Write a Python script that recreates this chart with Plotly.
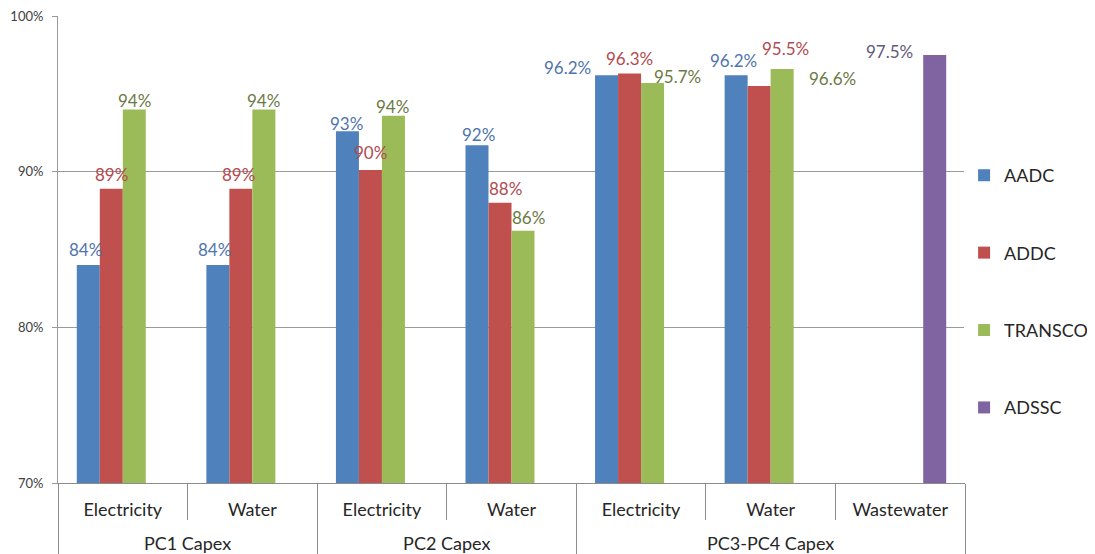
import plotly.graph_objects as go

# ---- data ----
groups = ["PC1 Capex", "PC1 Capex", "PC2 Capex", "PC2 Capex",
          "PC3-PC4 Capex", "PC3-PC4 Capex", "PC3-PC4 Capex"]
sectors = ["Electricity", "Water", "Electricity", "Water",
           "Electricity", "Water", "Wastewater"]

series_names = ["AADC", "ADDC", "TRANSCO", "ADSSC"]
aadc = [84.0, 84.0, 92.6, 91.7, 96.2, 96.2, None]
addc = [88.9, 88.9, 90.1, 88.0, 96.3, 95.5, None]
transco = [94.0, 94.0, 93.6, 86.2, 95.7, 96.6, None]
adssc = [None, None, None, None, None, None, 97.5]

aadc_lbl = ["84%", "84%", "93%", "92%", "96.2%", "96.2%", ""]
addc_lbl = ["89%", "89%", "90%", "88%", "96.3%", "95.5%", ""]
transco_lbl = ["94%", "94%", "94%", "86%", "95.7%", "96.6%", ""]
adssc_lbl = ["", "", "", "", "", "", "97.5%"]

yticks = [70, 80, 90, 100]
ytick_text = ["70%", "80%", "90%", "100%"]

# ---- style ----
bar_colors = ["#4F81BD", "#C0504D", "#9BBB59", "#8064A2"]
label_colors = ["#4f74ad", "#b24a4f", "#6b7a45", "#5e5a7c"]
FONT = "Lato"
BARGAP = 0.29

# label placement (style): horizontal shift px, and height of label centre above bar top px
label_dx = [
    [-3, -3, -1, 1, -39, -3, 0],
    [0, -2, 0, 5, 0, 26, 0],
    [0, 0, -1, 6, 25, 50, 0],
    [0, 0, 0, 0, 0, 0, -45],
]
label_above = [
    [17, 17, 9, 12, 9, 16, 0],
    [16, 16, 19, 16, 17, 39, 0],
    [10, 10, 11, 15, 8, -8, 0],
    [0, 0, 0, 0, 0, 0, 5],
]
LABEL_SIZE = 17
CENTER_TO_BOTTOM = 14  # px from annotation bottom to text centre

values = [aadc, addc, transco, adssc]
labels = [aadc_lbl, addc_lbl, transco_lbl, adssc_lbl]

# category tick text styling (small base font so the group line gap is small)
CAT_SIZE = 18
def big(t):
    return "<span style='font-size:%dpx'>%s</span>" % (CAT_SIZE, t)

groups_disp = ["<br><br>" + big(g) for g in groups]
sectors_disp = [big(s) for s in sectors]

fig = go.Figure()
for i, name in enumerate(series_names):
    fig.add_trace(go.Bar(
        x=[groups_disp, sectors_disp], y=values[i], name=name,
        marker=dict(color=bar_colors[i], line=dict(width=0)),
        legendgroup=name, hoverinfo="skip",
    ))

n_cat = len(sectors)
n_ser = len(series_names)
bw = (1 - BARGAP) / n_ser
for s in range(n_ser):
    for c in range(n_cat):
        txt = labels[s][c]
        v = values[s][c]
        if not txt or v is None:
            continue
        xpos = (c + 0.5 + (s - (n_ser - 1) / 2) * bw) / n_cat
        fig.add_annotation(
            x=xpos, xref="paper", y=v, yref="y",
            text=txt, showarrow=False, yanchor="bottom", xanchor="center",
            xshift=label_dx[s][c], yshift=label_above[s][c] - CENTER_TO_BOTTOM,
            font=dict(family=FONT, size=LABEL_SIZE, color=label_colors[s]),
        )

fig.update_layout(
    width=1087, height=546,
    margin=dict(l=50, r=130, t=8, b=71, autoexpand=False),
    paper_bgcolor="white", plot_bgcolor="white",
    barmode="group", bargap=BARGAP, bargroupgap=0,
    font=dict(family=FONT, color="#404040"),
    legend=dict(
        x=0.999, xanchor="left", y=0.41, yanchor="middle",
        font=dict(family=FONT, size=18, color="#262626"),
        tracegroupgap=51, itemwidth=30,
    ),
    xaxis=dict(
        type="multicategory", range=[-0.5, n_cat - 0.5], automargin=False,
        showline=True, linecolor="#8c8c8c", linewidth=1,
        ticks="outside", ticklen=36, tickcolor="#8c8c8c",
        showdividers=True, dividercolor="#8c8c8c", dividerwidth=1,
        tickfont=dict(family=FONT, size=11, color="#262626"),
        ticklabelstandoff=19,
        showgrid=False,
    ),
    yaxis=dict(
        range=[70, 100], tickvals=yticks, ticktext=ytick_text, automargin=False,
        showgrid=True, gridcolor="#9a9a9a", gridwidth=1,
        showline=True, linecolor="#9a9a9a", linewidth=1,
        ticks="outside", ticklen=5, tickcolor="#9a9a9a",
        ticklabelstandoff=6, ticklabeloverflow="allow",
        tickfont=dict(family=FONT, size=13, color="#404040"),
        zeroline=False,
    ),
)

fig.write_html("out.html")
